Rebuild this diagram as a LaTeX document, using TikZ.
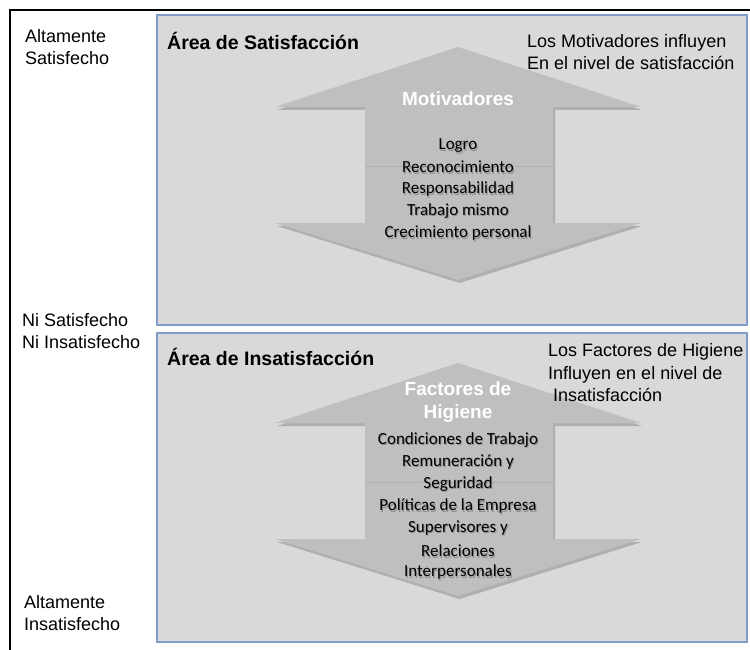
\documentclass[tikz,border=0pt]{standalone}
\usepackage{fontspec}
\setmainfont{Liberation Sans}
\newfontfamily\calib{Carlito}
\definecolor{boxfill}{HTML}{D9D9D9}
\definecolor{boxline}{HTML}{7F9DC8}
\definecolor{arrowfill}{HTML}{BFBFBF}
\definecolor{arrowshadow}{HTML}{9E9E9E}
\begin{document}
\begin{tikzpicture}[x=1pt,y=-1pt,
  area/.style={draw=boxline,line width=1.4pt,fill=boxfill},
  lbl/.style={anchor=west,inner sep=0pt,font=\fontsize{18}{22.5}\selectfont,align=left},
  title/.style={anchor=west,inner sep=0pt,font=\fontsize{19.5}{22}\selectfont\bfseries},
  headtxt/.style={inner sep=0pt,text=white,font=\fontsize{19}{23.5}\selectfont\bfseries,align=center},
  item/.style={inner sep=0pt,text=black,font=\calib\fontsize{17}{20}\selectfont},
  itemshadow/.style={inner sep=0pt,text=black,opacity=0.25,font=\calib\fontsize{17}{20}\selectfont},
  arrowshape/.style={fill=arrowfill},
  shadowshape/.style={fill=arrowshadow,opacity=0.7}]
\useasboundingbox (0,0) rectangle (750,650);
\fill[white] (0,0) rectangle (750,650);
% outer frame
\draw[black,line width=1.2pt] (10,651) -- (10,10) -- (751,10);
% area boxes
\path[area] (157,15) rectangle (747,325);
\path[area] (157,333) rectangle (747,642);
% arrows
\foreach \dy in {0,316}{
  \begin{scope}[yshift=-\dy]
  \fill[shadowshape] (459.5,50) -- (277,110) -- (367,110) -- (367,226) -- (277,226) -- (459.5,283) -- (642,226) -- (555,226) -- (555,110) -- (642,110) -- cycle;
  \fill[arrowshape] (458,47) -- (275,107) -- (365,107) -- (365,223) -- (275,223) -- (458,280) -- (641,223) -- (553,223) -- (553,107) -- (641,107) -- cycle;
  \draw[arrowshadow!80,line width=0.5pt] (365,166) -- (553,166);
  \end{scope}
}
% left scale labels
\node[lbl] (hs) at (25,47) {Altamente\\Satisfecho};
\node[lbl] (ni) at (22,331) {Ni Satisfecho\\Ni Insatisfecho};
\node[lbl] (hi) at (24,613) {Altamente\\Insatisfecho};
% titles
\node[title] (t1) at (167,41) {Área de Satisfacción};
\node[title] (t2) at (167,357) {Área de Insatisfacción};
% right notes
\node[lbl] (n1) at (527,52) {Los Motivadores influyen\\En el nivel de satisfacción};
\node[lbl] (n2) at (548,373) {Los Factores de Higiene\\Influyen en el nivel de\\\ Insatisfacción};
% arrow heads text
\node[headtxt] (m) at (458,99) {Motivadores};
\node[headtxt] (f) at (458,402) {Factores de\\Higiene};
% items
\foreach \t/\y in {Logro/146,Reconocimiento/167,Responsabilidad/189,Trabajo mismo/211,Crecimiento personal/233,Condiciones de Trabajo/440,Remuneración y/462,Seguridad/484,Políticas de la Empresa/506,Supervisores y/528,Relaciones/551,Interpersonales/572}{
  \node[itemshadow] at (459,\y+1.5) {\t};
  \node[item] at (458,\y) {\t};
}
\end{tikzpicture}
\end{document}
